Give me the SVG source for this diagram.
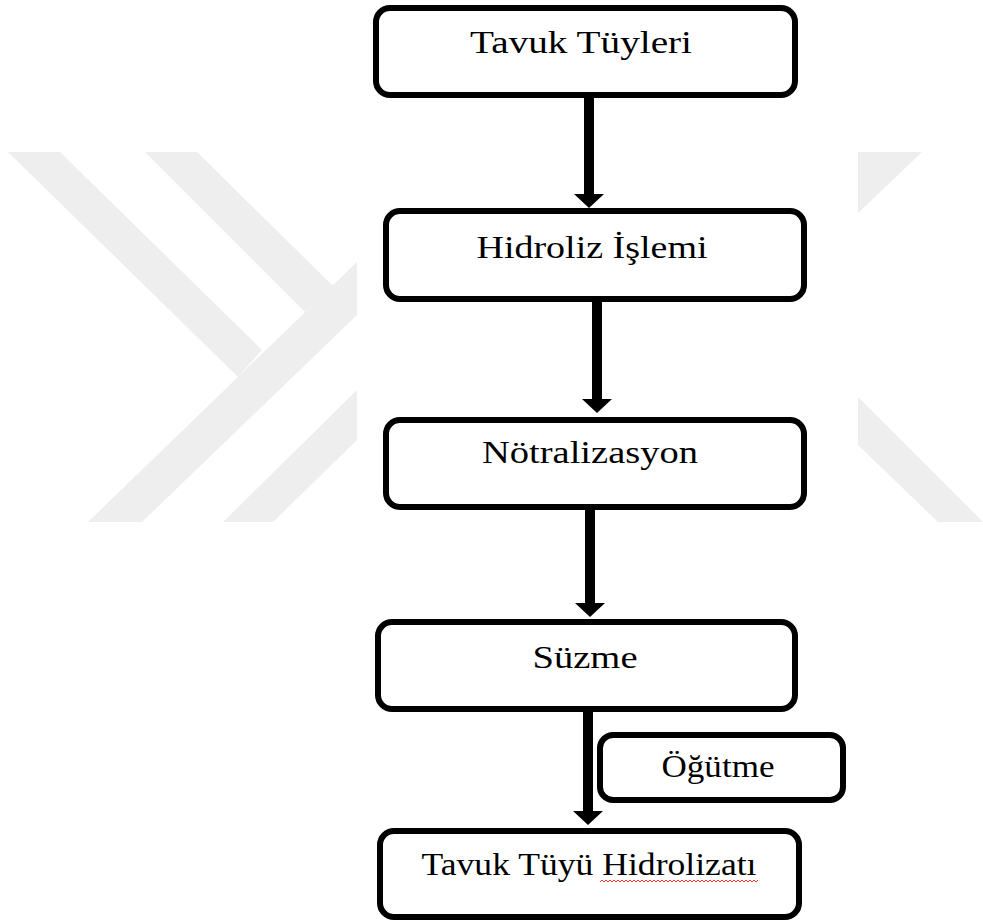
<svg xmlns="http://www.w3.org/2000/svg" width="983" height="922" viewBox="0 0 983 922">
  <style>
    .wm { fill: #eeeeee; }
    .box { fill: #ffffff; stroke: #000000; stroke-width: 6; }
    .lbl { font-family: "Liberation Serif", "Times New Roman", serif; font-size: 32px; fill: #000000; text-anchor: middle; }
    .conn { stroke: #000000; stroke-width: 10; fill: none; }
  </style>
  <defs>
    <marker id="ah" markerUnits="userSpaceOnUse" viewBox="0 -15 14 30" refX="0" refY="0" markerWidth="14" markerHeight="30" orient="auto">
      <path d="M0,-15 L14,0 L0,15 z" fill="#000000"/>
    </marker>
    <pattern id="wavy" patternUnits="userSpaceOnUse" x="600" y="879" width="4" height="4">
      <path d="M0,3 L2,1 L4,3" stroke="#e02020" stroke-width="0.9" fill="none"/>
    </pattern>
  </defs>

  <g id="watermark">
    <polygon class="wm" points="8,152 60,152 262,350 238,377"/>
    <polygon class="wm" points="145,152 197,152 333,286 305,312"/>
    <polygon class="wm" points="357,262 357,315 142,522 88,522"/>
    <polygon class="wm" points="223,522 357,390 357,440 273,522"/>
    <polygon class="wm" points="858,152 922,152 858,213"/>
    <polygon class="wm" points="858,397 983,522 938,522 858,445"/>
  </g>

  <g id="connectors">
    <line class="conn" x1="589" y1="96" x2="589" y2="194" marker-end="url(#ah)"/>
    <line class="conn" x1="597" y1="300" x2="597" y2="399" marker-end="url(#ah)"/>
    <line class="conn" x1="590" y1="508" x2="590" y2="603" marker-end="url(#ah)"/>
    <line class="conn" x1="588" y1="710" x2="588" y2="811" marker-end="url(#ah)"/>
  </g>

  <g id="n1">
    <rect class="box" x="376" y="8" width="419" height="87" rx="14"/>
    <text class="lbl" x="581" y="53" textLength="222" lengthAdjust="spacingAndGlyphs">Tavuk Tüyleri</text>
  </g>
  <g id="n2">
    <rect class="box" x="386" y="211" width="418" height="88" rx="14"/>
    <text class="lbl" x="592" y="258" textLength="231" lengthAdjust="spacingAndGlyphs">Hidroliz İşlemi</text>
  </g>
  <g id="n3">
    <rect class="box" x="386" y="420" width="418" height="87" rx="14"/>
    <text class="lbl" x="590" y="463" textLength="216" lengthAdjust="spacingAndGlyphs">Nötralizasyon</text>
  </g>
  <g id="n4">
    <rect class="box" x="378" y="622" width="417" height="87" rx="14"/>
    <text class="lbl" x="585" y="668" textLength="105" lengthAdjust="spacingAndGlyphs">Süzme</text>
  </g>
  <g id="n5">
    <rect class="box" x="600" y="735" width="243" height="65" rx="13"/>
    <text class="lbl" x="718" y="777" textLength="113" lengthAdjust="spacingAndGlyphs">Öğütme</text>
  </g>
  <g id="n6">
    <rect class="box" x="380" y="831" width="419" height="86" rx="14"/>
    <text class="lbl" x="589" y="875" textLength="335" lengthAdjust="spacingAndGlyphs">Tavuk Tüyü Hidrolizatı</text>
    <rect x="600" y="879" width="158" height="4" fill="url(#wavy)"/>
  </g>
</svg>
